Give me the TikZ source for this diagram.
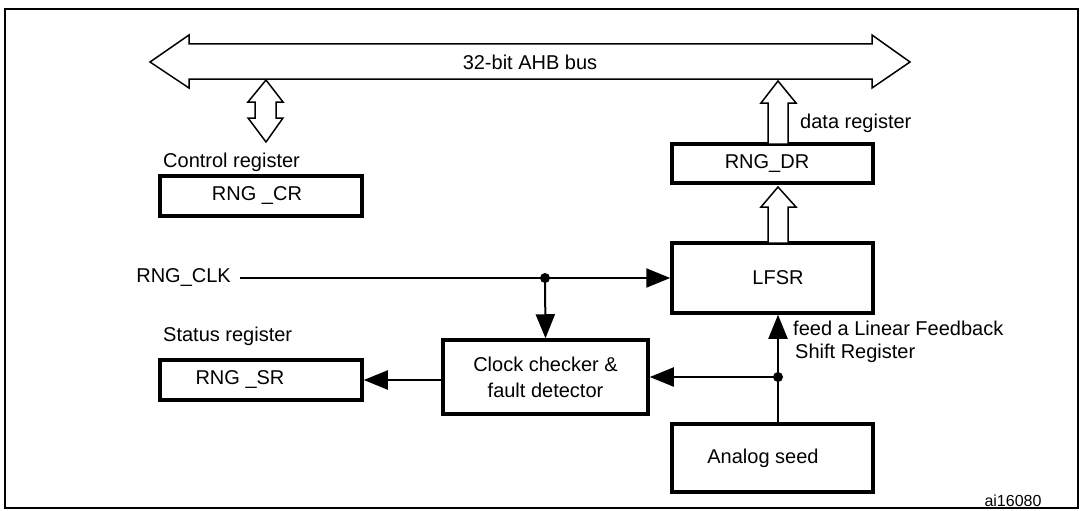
\documentclass[tikz,border=0pt]{standalone}
\usepackage{fontspec}
\setmainfont{Liberation Sans}
\usetikzlibrary{arrows.meta}
\begin{document}
\begin{tikzpicture}[x=1pt,y=-1pt,
  box/.style={draw,line width=3.5pt,inner sep=0pt},
  txt/.style={font=\fontsize{20}{24}\selectfont,inner sep=0pt},
  hollow/.style={draw,line width=1.5pt,fill=white,line join=miter},
  conn/.style={line width=2pt,-{Triangle[length=24pt,width=19pt]}},
  dot/.style={circle,fill,inner sep=0pt,minimum size=10pt}]
\useasboundingbox (0,0) rectangle (1081,511);
\draw[line width=2pt] (5,9) rectangle (1078,508);
% bus
\draw[hollow] (150,62) -- (189,35) -- (189,44) -- (872,44) -- (872,35) -- (910,62) -- (872,88) -- (872,79) -- (189,79) -- (189,88) -- cycle;
\node[txt] (bus) at (530,62) {32-bit AHB bus};
% small double arrow
\draw[hollow] (266,80) -- (283,102) -- (276,102) -- (276,118) -- (283,118) -- (266,142) -- (248,118) -- (255,118) -- (255,102) -- (248,102) -- cycle;
% boxes
\node[box,minimum width=202pt,minimum height=40pt] (cr) at (261,196) {};
\node[txt] at (257,196) {RNG \_CR};
\node[txt,anchor=base west] (crl) at (163,167) {Control register};
\node[box,minimum width=202pt,minimum height=40pt] (sr) at (261,380) {};
\node[txt] at (240,380) {RNG \_SR};
\node[txt,anchor=base west] (srl) at (163,341) {Status register};
\node[box,minimum width=201pt,minimum height=39pt] (dr) at (772.5,163.5) {};
\node[txt] at (767,163.5) {RNG\_DR};
\node[txt,anchor=base west] (drl) at (800,128) {data register};
\node[box,minimum width=201pt,minimum height=70pt] (lfsr) at (772.5,278) {};
\node[txt] at (778,278) {LFSR};
\node[box,minimum width=205pt,minimum height=74pt,txt,align=center,line width=3.5pt,draw] (cc) at (545.5,377) {Clock checker \&\\[2pt]fault detector};
\node[box,minimum width=201pt,minimum height=68pt] (seed) at (772.5,458) {};
\node[txt] at (763,458) {Analog seed};
\node[txt,anchor=east] (clk) at (231,278) {RNG\_CLK};
\node[txt,anchor=base west,align=left] (fb) at (793,335) {feed a Linear Feedback};
\node[txt,anchor=base west] (fb2) at (795,358) {Shift Register};
\node[font=\fontsize{16}{18}\selectfont,inner sep=0pt] (ai) at (1013,501) {ai16080};
% hollow up arrows
\draw[hollow] (778,81) -- (796,103) -- (788,103) -- (788,144) -- (768,144) -- (768,103) -- (761,103) -- cycle;
\draw[hollow] (778,187) -- (796,207) -- (788,207) -- (788,243) -- (768,243) -- (768,207) -- (761,207) -- cycle;
% connectors
\coordinate (j1) at (545,278);
\coordinate (j2) at (778,377);
\draw[conn] (240,278) -- (lfsr.west);
\draw[conn] (j1) -- (cc.north);
\draw[conn] (seed.north -| j2) -- (lfsr.south -| j2);
\draw[conn] (j2) -- (cc.east);
\draw[conn] (cc.west |- sr) -- (sr.east);
\node[dot] at (j1) {};
\node[dot] at (j2) {};
\end{tikzpicture}
\end{document}
